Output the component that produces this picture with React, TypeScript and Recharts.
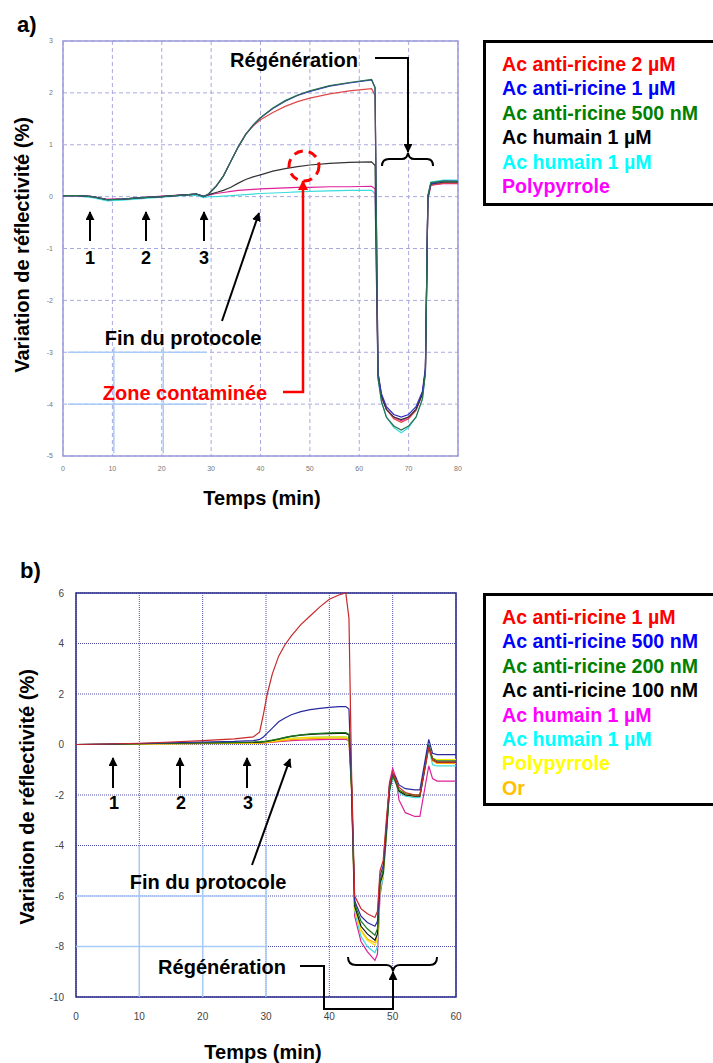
import React from "react";
import { LineChart, Line, XAxis, YAxis, CartesianGrid, ReferenceArea, ReferenceLine } from "recharts";

// ---- panel a) ----
const timeA = [0, 3, 6, 9, 12, 16, 20, 24, 27, 28.5, 29.5, 31, 32.5, 34, 35.5, 37, 38.5, 40, 42.5, 45, 47.5, 50, 54, 58, 62.5, 63.2, 63.8, 64.5, 65.5, 67, 68.5, 70, 71.5, 72.8, 73.4, 73.9, 74.5, 77, 80];
const antiRicine2uM = [0.02, 0.02, 0, -0.06, -0.05, -0.02, 0, 0.03, 0.05, 0, 0.05, 0.2, 0.4, 0.68, 0.96, 1.2, 1.36, 1.48, 1.62, 1.74, 1.83, 1.9, 1.98, 2.04, 2.08, 1.95, -3.45, -3.85, -4.1, -4.28, -4.35, -4.28, -4.12, -3.8, -3.35, -0.05, 0.22, 0.26, 0.26];
const antiRicine1uM = [0.02, 0.02, 0, -0.06, -0.05, -0.02, 0, 0.03, 0.05, 0, 0.05, 0.2, 0.4, 0.68, 0.96, 1.2, 1.38, 1.52, 1.7, 1.84, 1.95, 2.03, 2.13, 2.19, 2.25, 2.1, -3.4, -3.8, -4.05, -4.2, -4.25, -4.2, -4.05, -3.75, -3.3, 0, 0.25, 0.3, 0.3];
const antiRicine500nM = [0.02, 0.02, 0, -0.06, -0.05, -0.02, 0, 0.03, 0.05, 0, 0.05, 0.2, 0.4, 0.68, 0.96, 1.2, 1.38, 1.52, 1.71, 1.85, 1.96, 2.04, 2.14, 2.2, 2.26, 2.1, -3.5, -3.95, -4.25, -4.42, -4.5, -4.42, -4.25, -3.9, -3.4, 0.02, 0.27, 0.3, 0.29];
const humainNoirA = [0.02, 0.02, 0, -0.06, -0.05, -0.02, 0, 0.03, 0.05, 0, 0.04, 0.08, 0.12, 0.18, 0.26, 0.33, 0.38, 0.42, 0.49, 0.54, 0.58, 0.61, 0.64, 0.66, 0.67, 0.6, -3.4, -3.85, -4.1, -4.25, -4.3, -4.25, -4.1, -3.8, -3.35, -0.02, 0.24, 0.28, 0.28];
const humainCyanA = [0.01, 0.01, -0.02, -0.08, -0.07, -0.04, -0.01, 0.02, 0.03, -0.02, 0, 0, 0.01, 0.02, 0.03, 0.04, 0.05, 0.06, 0.07, 0.08, 0.09, 0.1, 0.11, 0.12, 0.12, 0.05, -3.5, -3.95, -4.25, -4.45, -4.55, -4.45, -4.25, -3.9, -3.4, 0.02, 0.28, 0.32, 0.32];
const polypyrroleA = [0.02, 0.02, 0, -0.05, -0.05, -0.02, 0.01, 0.03, 0.05, 0.01, 0.03, 0.06, 0.08, 0.1, 0.12, 0.13, 0.14, 0.15, 0.16, 0.17, 0.18, 0.18, 0.19, 0.19, 0.2, 0.15, -3.45, -3.85, -4.1, -4.25, -4.32, -4.25, -4.1, -3.8, -3.35, -0.05, 0.22, 0.25, 0.25];
const xTicksA = [0, 10, 20, 30, 40, 50, 60, 70, 80];
const yTicksA = [-5, -4, -3, -2, -1, 0, 1, 2, 3];
const legendA = [
  { label: "Ac anti-ricine 2 µM", color: "#ff0000" },
  { label: "Ac anti-ricine 1 µM", color: "#0000ff" },
  { label: "Ac anti-ricine 500 nM", color: "#008000" },
  { label: "Ac humain 1 µM", color: "#000000" },
  { label: "Ac humain 1 µM", color: "#00ffff" },
  { label: "Polypyrrole", color: "#ff00ff" },
];

// ---- panel b) ----
const timeB = [0, 5, 10, 15, 20, 25, 28, 29, 29.6, 30.2, 31, 32, 33, 34, 35.5, 37, 38.5, 40, 41.5, 42.6, 43.1, 43.5, 44, 45, 46, 47.2, 47.6, 48, 48.5, 49, 49.5, 50, 50.5, 51, 52, 53.5, 54.3, 55.7, 56.3, 57, 60];
const ricine1uM = [0, 0.02, 0.05, 0.1, 0.15, 0.22, 0.3, 0.5, 1.2, 2.0, 2.8, 3.5, 3.95, 4.3, 4.75, 5.1, 5.45, 5.75, 5.92, 6.0, 5.0, -1.0, -6.0, -6.5, -6.7, -6.85, -6.6, -5.0, -4.6, -3.0, -1.6, -1.1, -1.4, -1.7, -1.9, -2.0, -2.0, -0.1, -0.6, -0.7, -0.7];
const ricine500nM = [0, 0.02, 0.04, 0.07, 0.1, 0.12, 0.15, 0.2, 0.3, 0.45, 0.65, 0.9, 1.05, 1.18, 1.3, 1.38, 1.43, 1.47, 1.5, 1.5, 1.4, -1.5, -6.2, -6.8, -7.05, -7.2, -7.0, -5.2, -4.8, -3.2, -1.6, -1.15, -1.3, -1.6, -1.75, -1.8, -1.8, 0.2, -0.35, -0.4, -0.4];
const ricine200nM = [0, 0.01, 0.03, 0.05, 0.07, 0.08, 0.1, 0.11, 0.12, 0.14, 0.17, 0.22, 0.28, 0.33, 0.38, 0.42, 0.44, 0.46, 0.47, 0.47, 0.4, -1.6, -6.3, -7.0, -7.3, -7.55, -7.3, -5.4, -5.0, -3.4, -1.8, -1.25, -1.45, -1.8, -1.95, -2.0, -2.0, 0.0, -0.55, -0.65, -0.65];
const ricine100nM = [0, 0.01, 0.03, 0.05, 0.06, 0.07, 0.08, 0.09, 0.1, 0.12, 0.16, 0.21, 0.27, 0.32, 0.37, 0.4, 0.42, 0.43, 0.44, 0.44, 0.38, -1.6, -6.4, -7.2, -7.5, -7.75, -7.5, -5.5, -5.1, -3.5, -1.8, -1.2, -1.5, -1.85, -2.0, -2.05, -2.05, -0.05, -0.6, -0.7, -0.7];
const humainMagentaB = [0, 0, 0.02, 0.03, 0.04, 0.04, 0.05, 0.05, 0.06, 0.07, 0.09, 0.11, 0.13, 0.15, 0.17, 0.18, 0.19, 0.2, 0.2, 0.2, 0.15, -1.8, -6.8, -7.8, -8.2, -8.55, -8.3, -6.0, -5.2, -3.6, -1.5, -0.95, -1.3, -2.2, -2.7, -2.85, -2.85, -0.85, -1.35, -1.45, -1.45];
const humainCyanB = [0, 0.01, 0.02, 0.03, 0.04, 0.05, 0.06, 0.07, 0.08, 0.1, 0.13, 0.17, 0.21, 0.24, 0.27, 0.28, 0.29, 0.3, 0.3, 0.3, 0.25, -1.7, -6.6, -7.6, -8.0, -8.25, -8.0, -5.8, -5.3, -3.7, -1.9, -1.3, -1.55, -1.9, -2.05, -2.1, -2.1, -0.15, -0.8, -0.85, -0.85];
const polypyrroleB = [0, 0.01, 0.02, 0.03, 0.04, 0.05, 0.06, 0.07, 0.08, 0.1, 0.13, 0.17, 0.21, 0.24, 0.27, 0.28, 0.29, 0.3, 0.3, 0.3, 0.25, -1.7, -6.5, -7.4, -7.75, -7.95, -7.7, -5.6, -5.2, -3.5, -1.7, -1.2, -1.45, -1.8, -1.95, -2.0, -2.0, -0.05, -0.55, -0.6, -0.6];
const orB = [0, 0, 0.01, 0.02, 0.03, 0.04, 0.04, 0.05, 0.06, 0.08, 0.1, 0.13, 0.16, 0.19, 0.21, 0.23, 0.24, 0.25, 0.25, 0.25, 0.2, -1.7, -6.5, -7.35, -7.7, -7.85, -7.6, -5.5, -5.1, -3.4, -1.7, -1.2, -1.5, -1.85, -2.0, -2.05, -2.05, -0.1, -0.65, -0.75, -0.75];
const xTicksB = [0, 10, 20, 30, 40, 50, 60];
const yTicksB = [-10, -8, -6, -4, -2, 0, 2, 4, 6];
const legendB = [
  { label: "Ac anti-ricine 1 µM", color: "#ff0000" },
  { label: "Ac anti-ricine 500 nM", color: "#0000ff" },
  { label: "Ac anti-ricine 200 nM", color: "#008000" },
  { label: "Ac anti-ricine 100 nM", color: "#000000" },
  { label: "Ac humain 1 µM", color: "#ff00ff" },
  { label: "Ac humain 1 µM", color: "#00ffff" },
  { label: "Polypyrrole", color: "#ffff00" },
  { label: "Or", color: "#ffc000" },
];

const FONT = "'Liberation Sans', Arial, sans-serif";

const rowsA = timeA.map((t, i) => ({
  t,
  r2: antiRicine2uM[i],
  r1: antiRicine1uM[i],
  r500: antiRicine500nM[i],
  hk: humainNoirA[i],
  hc: humainCyanA[i],
  pp: polypyrroleA[i],
}));

const rowsB = timeB.map((t, i) => ({
  t,
  r1: ricine1uM[i],
  r500: ricine500nM[i],
  r200: ricine200nM[i],
  r100: ricine100nM[i],
  hm: humainMagentaB[i],
  hc: humainCyanB[i],
  pp: polypyrroleB[i],
  or: orB[i],
}));

// drawing order: first = underneath
const linesA = [
  { key: "hc", color: "#3cdcdc" },
  { key: "pp", color: "#e0209a" },
  { key: "r2", color: "#e04848" },
  { key: "hk", color: "#333333" },
  { key: "r1", color: "#3030c0" },
  { key: "r500", color: "#2a7050" },
];

const linesB = [
  { key: "hm", color: "#dd2299" },
  { key: "hc", color: "#40dede" },
  { key: "or", color: "#ffa800" },
  { key: "pp", color: "#f5e800" },
  { key: "r100", color: "#111111" },
  { key: "r200", color: "#1a7a1a" },
  { key: "r500", color: "#2a2aa0" },
  { key: "r1", color: "#c82828" },
];

const artifact = "#a8ccf8";

const Legend = ({ items, top, height, padTop }: { items: { label: string; color: string }[]; top: number; height: number; padTop: number }) => (
  <div
    style={{
      position: "absolute",
      left: 483,
      top,
      width: 232,
      height,
      boxSizing: "border-box",
      border: "3px solid #000",
      borderRight: "none",
      padding: `${padTop}px 0 0 16px`,
      fontFamily: FONT,
      fontWeight: "bold",
      fontSize: 19.6,
      lineHeight: "24.4px",
      background: "#fff",
    }}
  >
    {items.map((it, i) => (
      <div key={i} style={{ color: it.color, whiteSpace: "nowrap" }}>{it.label}</div>
    ))}
  </div>
);

const Overlay = () => {
  const t = { fontFamily: FONT, fontWeight: "bold" as const };
  return (
    <svg width={713} height={1063} style={{ position: "absolute", left: 0, top: 0, pointerEvents: "none" }}>
      <defs>
        <marker id="hk" viewBox="0 0 10 10" refX="9" refY="5" markerWidth="4.5" markerHeight="4.5" orient="auto" markerUnits="strokeWidth">
          <path d="M0,0 L10,5 L0,10 z" fill="#000" />
        </marker>
        <marker id="hr" viewBox="0 0 10 10" refX="9" refY="5" markerWidth="4" markerHeight="4" orient="auto" markerUnits="strokeWidth">
          <path d="M0,0 L10,5 L0,10 z" fill="#ff0000" />
        </marker>
      </defs>

      {/* panel a */}
      <text x={17} y={32} fontSize={22} {...t}>a)</text>
      <text x={22} y={245} fontSize={20} textAnchor="middle" dominantBaseline="central" transform="rotate(-90 22 245)" {...t}>Variation de réflectivité (%)</text>
      <text x={262} y={498} fontSize={20} textAnchor="middle" dominantBaseline="central" {...t}>Temps (min)</text>
      {[90, 146, 204].map((x, i) => (
        <g key={i}>
          <line x1={x} y1={241} x2={x} y2={212} stroke="#000" strokeWidth={2} markerEnd="url(#hk)" />
          <text x={x} y={258} fontSize={18} textAnchor="middle" dominantBaseline="central" {...t}>{i + 1}</text>
        </g>
      ))}
      <line x1={222} y1={321} x2={259} y2={213} stroke="#000" strokeWidth={2} markerEnd="url(#hk)" />
      <text x={183} y={338} fontSize={20} textAnchor="middle" dominantBaseline="central" {...t}>Fin du protocole</text>
      <text x={185} y={393} fontSize={20} textAnchor="middle" dominantBaseline="central" fill="#ff0000" {...t}>Zone contaminée</text>
      <polyline points="283,392 303,392 303,181" fill="none" stroke="#ff0000" strokeWidth={2.5} markerEnd="url(#hr)" />
      <circle cx={304} cy={166} r={15} fill="none" stroke="#ff0000" strokeWidth={3} strokeDasharray="9 6" />
      <text x={294} y={60} fontSize={20} textAnchor="middle" dominantBaseline="central" {...t}>Régénération</text>
      <polyline points="375,58 408,58 408,152" fill="none" stroke="#000" strokeWidth={2} markerEnd="url(#hk)" />
      <path d="M382,166 Q382,159 389,159 L402,159 Q407,159 408,153 Q409,159 414,159 L427,159 Q433,159 433,166" fill="none" stroke="#000" strokeWidth={2} />

      {/* panel b */}
      <text x={20} y={578} fontSize={22} {...t}>b)</text>
      <text x={27} y={797} fontSize={20} textAnchor="middle" dominantBaseline="central" transform="rotate(-90 27 797)" {...t}>Variation de réflectivité (%)</text>
      <text x={263} y={1052} fontSize={20} textAnchor="middle" dominantBaseline="central" {...t}>Temps (min)</text>
      {[113, 180, 247].map((x, i) => (
        <g key={i}>
          <line x1={x} y1={788} x2={x} y2={758} stroke="#000" strokeWidth={2} markerEnd="url(#hk)" />
          <text x={x + 1} y={803} fontSize={18} textAnchor="middle" dominantBaseline="central" {...t}>{i + 1}</text>
        </g>
      ))}
      <line x1={252} y1={865} x2={290} y2={759} stroke="#000" strokeWidth={2} markerEnd="url(#hk)" />
      <text x={208} y={882} fontSize={20} textAnchor="middle" dominantBaseline="central" {...t}>Fin du protocole</text>
      <text x={222} y={967} fontSize={20} textAnchor="middle" dominantBaseline="central" {...t}>Régénération</text>
      <polyline points="300,966 324,966 324,1009 393,1009 393,972" fill="none" stroke="#000" strokeWidth={2} markerEnd="url(#hk)" />
      <path d="M348,957 Q348,965 356,965 L386,965 Q392,965 393,971 Q394,965 400,965 L430,965 Q437,965 437,957" fill="none" stroke="#000" strokeWidth={2} />
    </svg>
  );
};

export default function App() {
  return (
    <div style={{ position: "relative", width: 713, height: 1063, background: "#fff", fontFamily: FONT }}>
      <style>{`body{margin:0;}`}</style>

      <div style={{ position: "absolute", left: 0, top: 0 }}>
        <LineChart width={470} height={480} data={rowsA} margin={{ top: 41, right: 12, left: 33, bottom: 4 }}>
          <CartesianGrid stroke="#a8a8e0" strokeDasharray="4 3" />
          <XAxis dataKey="t" type="number" domain={[0, 80]} ticks={xTicksA} height={20} axisLine={false} tickLine={false} tickSize={8} tickMargin={2} tick={{ fontSize: 7, fill: "#777" }} />
          <YAxis type="number" domain={[-5, 3]} ticks={yTicksA} width={30} axisLine={false} tickLine={false} tickSize={8} tickMargin={2} tick={{ fontSize: 7, fill: "#777" }} />
          <ReferenceArea x1={0} x2={80} y1={-5} y2={3} fill="none" stroke="#9c9cdc" strokeWidth={1.5} />
          <ReferenceLine segment={[{ x: 1, y: -3 }, { x: 29, y: -3 }]} stroke={artifact} strokeWidth={1.5} />
          <ReferenceLine segment={[{ x: 1, y: -4 }, { x: 29, y: -4 }]} stroke={artifact} strokeWidth={1.5} />
          <ReferenceLine segment={[{ x: 10.3, y: -2.9 }, { x: 10.3, y: -4.95 }]} stroke={artifact} strokeWidth={1.5} />
          <ReferenceLine segment={[{ x: 20.3, y: -2.9 }, { x: 20.3, y: -4.95 }]} stroke={artifact} strokeWidth={1.5} />
          {linesA.map((l) => (
            <Line key={l.key} type="linear" dataKey={l.key} stroke={l.color} strokeWidth={1.2} dot={false} isAnimationActive={false} />
          ))}
        </LineChart>
      </div>

      <div style={{ position: "absolute", left: 0, top: 570 }}>
        <LineChart width={470} height={470} data={rowsB} margin={{ top: 23, right: 14, left: 36, bottom: 13 }}>
          <CartesianGrid stroke="#5050a8" strokeDasharray="1 1" />
          <XAxis dataKey="t" type="number" domain={[0, 60]} ticks={xTicksB} height={30} axisLine={false} tickLine={false} tickSize={14} tickMargin={2} tick={{ fontSize: 10, fill: "#444" }} />
          <YAxis type="number" domain={[-10, 6]} ticks={yTicksB} width={40} axisLine={false} tickLine={false} tickSize={10} tickMargin={2} tick={{ fontSize: 10, fill: "#444" }} />
          <ReferenceLine segment={[{ x: 0, y: -6 }, { x: 30.2, y: -6 }]} stroke={artifact} strokeWidth={1.5} />
          <ReferenceLine segment={[{ x: 0, y: -8 }, { x: 30.2, y: -8 }]} stroke={artifact} strokeWidth={1.5} />
          <ReferenceLine segment={[{ x: 10, y: -4 }, { x: 10, y: -10 }]} stroke={artifact} strokeWidth={1.5} />
          <ReferenceLine segment={[{ x: 20, y: -4 }, { x: 20, y: -10 }]} stroke={artifact} strokeWidth={1.5} />
          <ReferenceLine segment={[{ x: 30, y: -4 }, { x: 30, y: -10 }]} stroke={artifact} strokeWidth={1.5} />
          <ReferenceArea x1={0} x2={60} y1={-10} y2={6} fill="none" stroke="#2a2a88" strokeWidth={1.5} />
          {linesB.map((l) => (
            <Line key={l.key} type="linear" dataKey={l.key} stroke={l.color} strokeWidth={1.2} dot={false} isAnimationActive={false} />
          ))}
        </LineChart>
      </div>

      <Legend items={legendA} top={40} height={166} padTop={9} />
      <Legend items={legendB} top={593} height={213} padTop={9} />
      <Overlay />
    </div>
  );
}
